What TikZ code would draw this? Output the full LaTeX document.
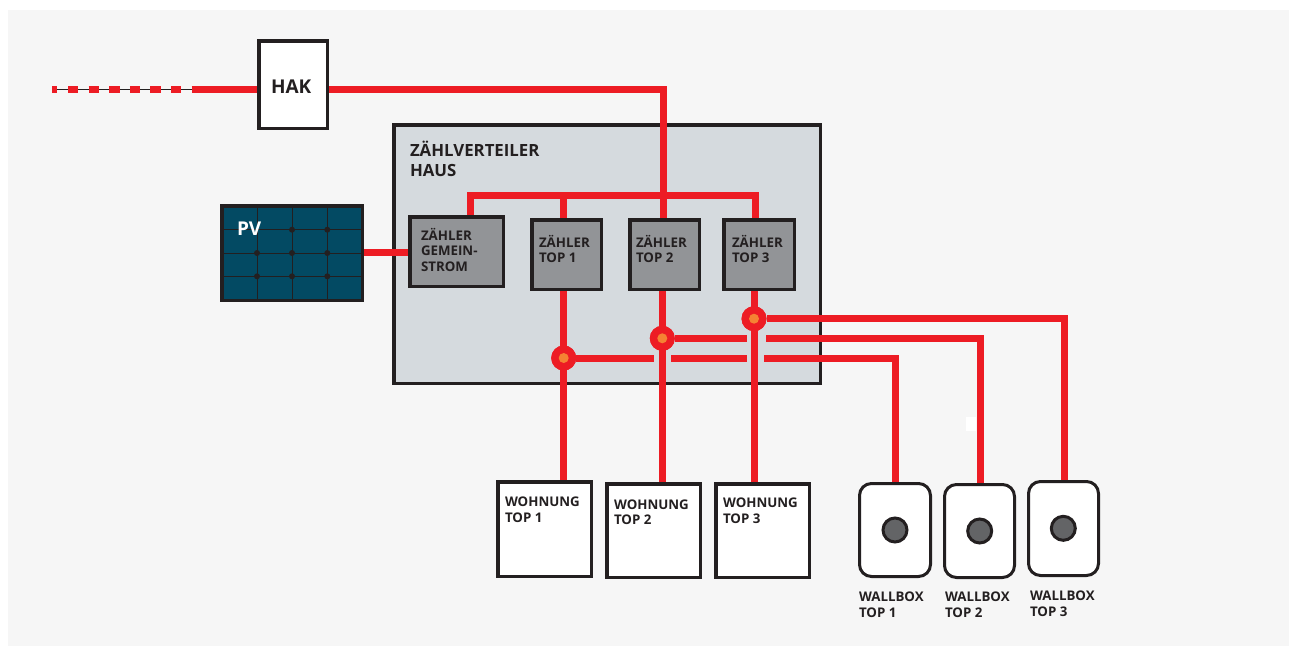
\documentclass[tikz,border=0pt]{standalone}
\usepackage{fontspec}
\setmainfont{Open Sans}
\definecolor{pagebg}{HTML}{F6F6F6}
\definecolor{ink}{HTML}{231F20}
\definecolor{wire}{HTML}{ED1C24}
\definecolor{cabinet}{HTML}{D5DADE}
\definecolor{meter}{HTML}{929497}
\definecolor{panel}{HTML}{034A63}
\definecolor{dotin}{HTML}{F58233}
\definecolor{knob}{HTML}{636466}
\tikzset{
  wirel/.style={draw=wire,line width=7pt},
  lab/.style={inner sep=0pt,outer sep=0pt,text=ink,font=\bfseries\fontsize{13.3}{16}\selectfont,align=left,anchor=base west},
  big/.style={lab,font=\bfseries\fontsize{19}{20}\selectfont},
  mid/.style={lab,font=\bfseries\fontsize{16.8}{20}\selectfont},
  sm/.style={lab,font=\bfseries\fontsize{13.3}{15.5}\selectfont},
  junc/.style={circle,fill=wire,minimum size=25pt,inner sep=0pt},
  juncin/.style={circle,fill=dotin,minimum size=10pt,inner sep=0pt},
  griddot/.style={circle,fill=ink,minimum size=6pt,inner sep=0pt},
  wb/.style={draw=ink,line width=3pt,fill=white,rounded corners=12pt},
  knobc/.style={circle,draw=ink,line width=3pt,fill=knob,minimum size=24pt,inner sep=0pt},
}
\newcommand{\boxat}[6][white]{\node[draw=ink,line width=3.5pt,fill=#1,inner sep=0pt,minimum width=#4pt-3.5pt,minimum height=#5pt-3.5pt,anchor=north west] (#6) at (#2,#3) {};}
\begin{document}
\begin{tikzpicture}[x=1pt,y=-1pt]
\useasboundingbox (0,0) rectangle (1289,646);
\fill[white] (0,0) rectangle (1289,646);
\fill[pagebg] (8,10) rectangle (1289,646);
% cabinet
\boxat[cabinet]{392}{123}{430}{262}{zv}
% boxes
\boxat{257}{39}{72}{91}{hak}
\boxat[panel]{220}{204}{144}{98}{pv}
\boxat[meter]{408}{215}{97}{73}{zg}
\boxat[meter]{530}{218}{73}{73}{z1}
\boxat[meter]{628}{218}{73}{73}{z2}
\boxat[meter]{722}{218}{74}{73}{z3}
\boxat{496}{480}{97}{98}{w1}
\boxat{605}{482}{97}{97}{w2}
\boxat{714}{482}{97}{97}{w3}
\node[wb,minimum width=71pt,minimum height=93pt,anchor=north west] (b1) at (858,482) {};
\node[wb,minimum width=70pt,minimum height=93pt,anchor=north west] (b2) at (943,483) {};
\node[wb,minimum width=70pt,minimum height=94pt,anchor=north west] (b3) at (1027,480) {};
\node[knobc] (k1) at (895,530) {};
\node[knobc] (k2) at (979.7,531) {};
\node[knobc] (k3) at (1063.3,528.3) {};
% grid
\draw[ink,line width=1pt] (pv.north west -| 257,0) -- (pv.south west -| 257,0);
\draw[ink,line width=1pt] (pv.north west -| 292,0) -- (pv.south west -| 292,0);
\draw[ink,line width=1pt] (pv.north west -| 327.3,0) -- (pv.south west -| 327.3,0);
\draw[ink,line width=1pt] (pv.west |- 0,229.7) -- (pv.east |- 0,229.7);
\draw[ink,line width=1pt] (pv.west |- 0,253) -- (pv.east |- 0,253);
\draw[ink,line width=1pt] (pv.west |- 0,276.3) -- (pv.east |- 0,276.3);
\foreach \i/\x/\y in {1/292/229.7,2/327.3/229.7,3/257/253,4/292/253,5/327.3/253,6/257/276.3,7/292/276.3,8/327.3/276.3}
  \node[griddot] (gd\i) at (\x,\y) {};
% wires
\coordinate (s) at (52,89);
\coordinate (d) at (192,89);
\draw[ink,line width=1pt] (s) -- (d);
\draw[wire,line width=7pt,dash pattern=on 5pt off 11pt on 10.3pt off 10.3pt on 10.3pt off 10.3pt on 10.3pt off 10.3pt on 10.3pt off 10.3pt on 10.3pt off 10.3pt on 10.3pt off 10.3pt] (s) -- (d);
\draw[wirel] (d) -- (hak.west |- d);
\draw[wirel] (hak.east |- d) -- (663,89) -- (663,218);
\draw[wirel] (470.7,215) -- (470.7,195) -- (755.7,195) -- (755.7,218);
\draw[wirel] (563.3,195) -- (563.3,218);
\draw[wirel] (pv.east |- 0,252.7) -- (zg.west |- 0,252.7);
\draw[wirel] (563.3,291) -- (563.3,480);
\draw[wirel] (662.7,291) -- (662.7,482);
\draw[wirel] (754.7,291) -- (754.7,482);
\node[junc] (j1) at (563.7,358) {};
\node[junc] (j2) at (662.3,338.3) {};
\node[junc] (j3) at (754,318.7) {};
\node[juncin] (i1) at (j1) {};
\node[juncin] (i2) at (j2) {};
\node[juncin] (i3) at (j3) {};
\draw[wirel] (j3) -- (1064,318.7) -- (1064,480);
\draw[wirel] (j2) -- (747,338.3);
\draw[wirel] (766,338.3) -- (980,338.3) -- (980,483);
\draw[wirel] (j1) -- (654,358);
\draw[wirel] (671,358) -- (747,358);
\draw[wirel] (764,358) -- (895,358) -- (895,482);
\fill[white] (966,417) rectangle (976,431);
\node[junc] at (j1) {};
\node[junc] at (j2) {};
\node[junc] at (j3) {};
\node[juncin] at (j1) {};
\node[juncin] at (j2) {};
\node[juncin] at (j3) {};
% labels
\node[big] (thak) at (271,93) {HAK};
\node[big,text=white] (tpv) at (237,235) {PV};
\node[mid] (tzv1) at (410,156) {ZÄHLVERTEILER};
\node[mid] (tzv2) at (410,176) {HAUS};
\node[sm] (a1) at (421,240) {ZÄHLER};
\node[sm] (a2) at (421,255) {GEMEIN-};
\node[sm] (a3) at (421,271) {STROM};
\node[sm] (b11) at (539,247) {ZÄHLER};
\node[sm] (b12) at (539,262) {TOP 1};
\node[sm] (c11) at (636,247) {ZÄHLER};
\node[sm] (c12) at (636,262) {TOP 2};
\node[sm] (d11) at (732,247) {ZÄHLER};
\node[sm] (d12) at (732,262) {TOP 3};
\node[lab] (e11) at (505,506) {WOHNUNG};
\node[lab] (e12) at (505,522) {TOP 1};
\node[lab] (f11) at (614,509) {WOHNUNG};
\node[lab] (f12) at (614,524) {TOP 2};
\node[lab] (g11) at (723,507) {WOHNUNG};
\node[lab] (g12) at (723,523) {TOP 3};
\node[lab] (h11) at (859,601.7) {WALLBOX};
\node[lab] (h12) at (859,617.7) {TOP 1};
\node[lab] (k11) at (945,601.7) {WALLBOX};
\node[lab] (k12) at (945,617.7) {TOP 2};
\node[lab] (l11) at (1030,600) {WALLBOX};
\node[lab] (l12) at (1030,616.7) {TOP 3};
\end{tikzpicture}
\end{document}
